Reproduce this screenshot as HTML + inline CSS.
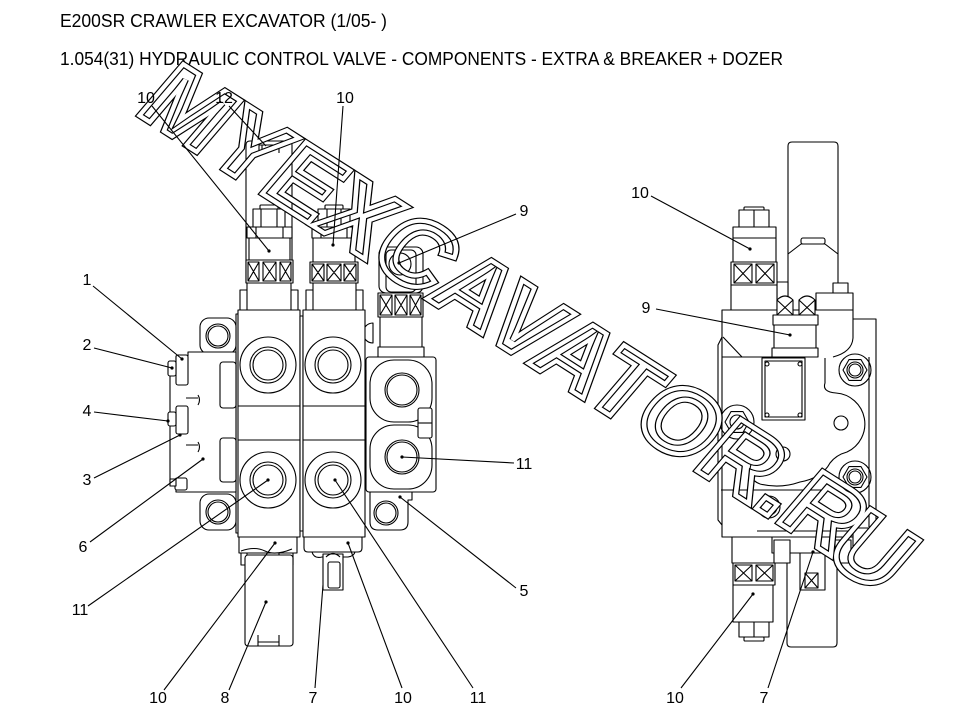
<!DOCTYPE html>
<html><head><meta charset="utf-8"><style>
html,body{margin:0;padding:0;background:#fff;}
svg{display:block;}
text{font-family:"Liberation Sans",Arial,sans-serif;fill:#000;stroke:none;}
</style></head><body>
<svg width="960" height="720" viewBox="0 0 960 720" xmlns="http://www.w3.org/2000/svg">
<text x="60" y="27" font-size="18" textLength="327" lengthAdjust="spacingAndGlyphs">E200SR CRAWLER EXCAVATOR (1/05- )</text>
<text x="60" y="65" font-size="18" textLength="723" lengthAdjust="spacingAndGlyphs">1.054(31) HYDRAULIC CONTROL VALVE - COMPONENTS - EXTRA &amp; BREAKER + DOZER</text>

<g fill="#fff" stroke="#000" stroke-width="1.1" stroke-linejoin="round">
<!-- LEFT VIEW -->
<path d="M246,283 V145 Q246,141 250,141 H289 Q292,141 292,145 V283"/>
<path fill="none" d="M259,153 V145 H279 V153 M262,145 V150 M276,145 V150"/>
<!-- spool 1 top -->
<rect x="260" y="205" width="18" height="5" rx="1"/>
<rect x="253" y="209" width="32" height="18"/>
<path fill="none" d="M261,209V227 M277,209V227"/>
<rect x="247" y="227" width="45" height="11"/>
<path fill="none" d="M256,227V238 M283,227V238"/>
<rect x="249" y="238" width="41" height="22"/>
<rect x="246" y="260" width="47" height="23"/>
<path fill="none" d="M248,262 h11 v19 h-11z M248,262 l11,19 M259,262 l-11,19 M263,262 h13 v19 h-13z M263,262 l13,19 M276,262 l-13,19 M280,262 h11 v19 h-11z M280,262 l11,19 M291,262 l-11,19"/>
<rect x="240" y="290" width="58" height="20"/>
<rect x="247" y="283" width="44" height="27"/>
<!-- spool 2 top -->
<rect x="325" y="205" width="18" height="5" rx="1"/>
<rect x="318" y="209" width="32" height="18"/>
<path fill="none" d="M327,209V227 M341,209V227"/>
<rect x="312" y="227" width="44" height="11"/>
<path fill="none" d="M321,227V238 M347,227V238"/>
<rect x="313" y="238" width="42" height="24"/>
<rect x="310" y="262" width="48" height="21"/>
<path fill="none" d="M312,264 h12 v17 h-12z M312,264 l12,17 M324,264 l-12,17 M327,264 h14 v17 h-14z M327,264 l14,17 M341,264 l-14,17 M344,264 h12 v17 h-12z M344,264 l12,17 M356,264 l-12,17"/>
<rect x="306" y="290" width="57" height="20"/>
<rect x="313" y="283" width="43" height="27"/>
<!-- item 9 left -->
<path d="M373,323 A10,10 0 0 0 373,343 Z"/>
<rect x="378" y="347" width="46" height="10"/>
<rect x="380" y="317" width="42" height="30"/>
<rect x="378" y="293" width="45" height="24"/>
<path fill="none" d="M380,295 h12 v20 h-12z M380,295 l12,20 M392,295 l-12,20 M395,295 h12 v20 h-12z M395,295 l12,20 M407,295 l-12,20 M410,295 h11 v20 h-11z M410,295 l11,20 M421,295 l-11,20"/>
<rect x="379" y="247" width="44" height="46" rx="7"/>
<rect x="386" y="250" width="30" height="42" rx="5" fill="none"/>
<circle cx="400" cy="264" r="11" fill="none"/>
<!-- blocks -->
<rect x="236" y="314" width="3" height="219"/>
<rect x="238" y="310" width="62" height="227"/>
<path fill="none" d="M238,406H300 M238,440H300"/>
<rect x="300" y="316" width="3" height="215"/>
<rect x="303" y="310" width="62" height="227"/>
<path fill="none" d="M303,406H365 M303,440H365"/>
<g fill="none">
<circle cx="268" cy="365" r="28"/><circle cx="268" cy="365" r="18"/><circle cx="268" cy="365" r="15"/>
<circle cx="268" cy="480" r="28"/><circle cx="268" cy="480" r="18"/><circle cx="268" cy="480" r="15"/>
<circle cx="333" cy="365" r="28"/><circle cx="333" cy="365" r="18"/><circle cx="333" cy="365" r="15"/>
<circle cx="333" cy="480" r="28"/><circle cx="333" cy="480" r="18"/><circle cx="333" cy="480" r="15"/>
</g>
<!-- block 3 -->
<path d="M370,492 V522 Q370,530 378,530 H400 Q408,530 408,522 V500 H412 V492 Z"/>
<circle cx="386" cy="513" r="12" fill="none"/><circle cx="386" cy="513" r="10" fill="none"/>
<rect x="366" y="357" width="70" height="135" rx="3"/>
<rect x="370" y="360" width="62" height="62" rx="24" fill="none"/>
<rect x="370" y="425" width="62" height="64" rx="24" fill="none"/>
<circle cx="402" cy="390" r="17" fill="none"/><circle cx="402" cy="390" r="15" fill="none"/>
<circle cx="402" cy="457" r="17" fill="none"/><circle cx="402" cy="457" r="15" fill="none"/>
<rect x="418" y="408" width="14" height="30" rx="2"/>
<path fill="none" d="M418,423H432"/>
<!-- end plate -->
<rect x="200" y="318" width="36" height="36" rx="9"/>
<circle cx="218" cy="336" r="12" fill="none"/><circle cx="218" cy="336" r="10" fill="none"/>
<rect x="200" y="494" width="36" height="36" rx="9"/>
<circle cx="218" cy="512" r="12" fill="none"/><circle cx="218" cy="512" r="10" fill="none"/>
<path d="M236,352 H188 V356 H176 V368 H170 V482 H176 V492 H236 Z"/>
<rect x="176" y="355" width="12" height="30" rx="2"/>
<rect x="168" y="361" width="8" height="15" rx="2"/>
<rect x="176" y="406" width="12" height="28" rx="2"/>
<rect x="168" y="412" width="8" height="14" rx="2"/>
<rect x="175" y="478" width="12" height="12" rx="2"/>
<rect x="170" y="479" width="6" height="7"/>
<rect x="220" y="362" width="16" height="46" rx="3"/>
<rect x="220" y="438" width="16" height="44" rx="3"/>
<path fill="none" d="M186,398 H198 M186,445 H198 M198,395 Q201,400 198,405 M198,442 Q201,447 198,452"/>
<!-- bottom left -->
<rect x="239" y="537" width="58" height="16"/>
<path fill="none" d="M241,551 Q255,546 265,551 T292,549"/>
<rect x="241" y="553" width="6" height="12"/>
<rect x="279" y="553" width="14" height="12"/>
<rect x="245" y="555" width="48" height="91" rx="3"/>
<path fill="none" d="M258,646 V635 M279,646 V635 M258,642 H279"/>
<path d="M304,537 V548 Q304,552 308,552 H358 Q362,552 362,548 V537 Z"/>
<path fill="none" d="M312,552 Q314,559 322,557 H348 Q354,556 355,552"/>
<rect x="323" y="554" width="20" height="36"/>
<rect x="328" y="562" width="12" height="26" rx="2" fill="none"/>
<path fill="none" d="M326,557 Q333,550 340,557"/>

<!-- RIGHT VIEW -->
<path d="M788,310 V146 Q788,142 792,142 H834 Q838,142 838,146 V310"/>
<path fill="none" d="M788,254 L801,244 H825 L838,254"/>
<rect x="801" y="238" width="24" height="6" rx="2"/>
<rect x="833" y="283" width="15" height="10"/>
<rect x="816" y="293" width="37" height="17"/>
<rect x="777" y="282" width="11" height="28"/>
<rect x="744" y="207" width="20" height="4" rx="1"/>
<rect x="739" y="210" width="30" height="17"/>
<path fill="none" d="M754,210V227 M754,227V238"/>
<rect x="733" y="227" width="43" height="11"/>
<rect x="733" y="238" width="43" height="24"/>
<rect x="731" y="262" width="46" height="23"/>
<path fill="none" d="M734,264 h18 v19 h-18z M734,264 l18,19 M752,264 l-18,19 M756,264 h18 v19 h-18z M756,264 l18,19 M774,264 l-18,19"/>
<rect x="731" y="285" width="46" height="25"/>
<path d="M722,310 H853 V319 H876 V528 H853 V537 H722 Z"/>
<path fill="none" d="M722,337 L718,345 V520 L722,525 M723,337 L742,357 M722,357 H812 M869,357 V527 M721,490 H827 M757,531 H853 M853,319 V338 Q852,352 833,357"/>
<rect x="772" y="348" width="46" height="9"/>
<rect x="774" y="325" width="42" height="23"/>
<rect x="773" y="315" width="45" height="10"/>
<path d="M777,315 V300 Q785,292 793,300 V315 Z M799,315 V300 Q807,292 815,300 V315 Z"/>
<path fill="none" d="M777,300 l16,15 M793,300 l-16,15 M799,300 l16,15 M815,300 l-16,15"/>
<rect x="762" y="358" width="43" height="62"/>
<rect x="765" y="361" width="37" height="56" fill="none"/>
<g fill="none">
<circle cx="767" cy="364" r="2"/><circle cx="800" cy="364" r="2"/><circle cx="767" cy="415" r="2"/><circle cx="800" cy="415" r="2"/>
<path d="M825,358 V383 Q822,392 836,393 A31,31 0 0 1 847,452 Q836,455 830,463 Q822,478 800,482 Q780,489 760,484"/>
<path d="M760,484 Q745,478 752,462"/>
<circle cx="855" cy="370" r="16"/>
<polygon points="867,370 861,380.4 849,380.4 843,370 849,359.6 861,359.6"/>
<circle cx="855" cy="370" r="8"/><circle cx="855" cy="370" r="6"/>
<circle cx="855" cy="477" r="16"/>
<polygon points="867,477 861,487.4 849,487.4 843,477 849,466.6 861,466.6"/>
<circle cx="855" cy="477" r="8"/><circle cx="855" cy="477" r="6"/>
<circle cx="737" cy="422" r="17"/>
<polygon points="749,422 743,432.4 731,432.4 725,422 731,411.6 743,411.6"/>
<circle cx="737" cy="422" r="7"/>
<circle cx="841" cy="423" r="7"/>
<circle cx="783" cy="454" r="7"/>
<circle cx="769" cy="507" r="11"/><circle cx="769" cy="507" r="8"/>
</g>
<!-- bottom right -->
<rect x="732" y="537" width="45" height="26"/>
<rect x="733" y="563" width="42" height="22"/>
<path fill="none" d="M735,565 h17 v16 h-17z M735,565 l17,16 M752,565 l-17,16 M756,565 h17 v16 h-17z M756,565 l17,16 M773,565 l-17,16"/>
<rect x="733" y="585" width="40" height="37"/>
<rect x="739" y="622" width="30" height="15"/>
<path fill="none" d="M754,622V637"/>
<rect x="744" y="637" width="20" height="4" rx="1"/>
<path d="M787,553 V643 Q787,647 791,647 H833 Q837,647 837,643 V553"/>
<rect x="772" y="537" width="81" height="16"/>
<rect x="774" y="540" width="16" height="23"/>
<rect x="835" y="540" width="16" height="23"/>
<rect x="800" y="553" width="25" height="37"/>
<path fill="none" d="M805,573 h13 v15 h-13z M805,573 l13,15 M818,573 l-13,15"/>
</g>

<!-- watermark -->
<g transform="translate(134,112) rotate(32.5) skewX(-8)" font-family="Liberation Sans, Arial, sans-serif" font-weight="bold" font-size="97">
<text x="0" y="0" style="fill:none;stroke:#000;stroke-width:6.6;stroke-linejoin:miter">MYEXCAVATOR.R<tspan dx="-8" dy="6">U</tspan></text>
<text x="0" y="0" style="fill:none;stroke:#fff;stroke-width:4.2;stroke-linejoin:miter">MYEXCAVATOR.R<tspan dx="-8" dy="6">U</tspan></text>
</g>

<!-- leaders -->
<g stroke="#000" stroke-width="1.1" fill="none">
<path d="M152,106 L269,251 M229,106 L266,146 M343,106 L333,245 M516,214 L399,263 M651,196 L750,249 M656,309 L790,335 M93,286 L182,359 M94,348 L172,368 M94,412 L168,421 M94,478 L180,435 M90,542 L203,459 M88,606 L268,480 M514,463 L402,457 M516,588 L400,497 M164,690 L275,543 M229,690 L266,602 M315,688 L323,585 M402,688 L348,543 M473,688 L335,480 M681,688 L753,594 M768,688 L813,552"/>
</g>
<g fill="#000">
<circle cx="269" cy="251" r="1.6"/><circle cx="333" cy="245" r="1.6"/><circle cx="399" cy="263" r="1.6"/>
<circle cx="750" cy="249" r="1.6"/><circle cx="790" cy="335" r="1.6"/><circle cx="182" cy="359" r="1.6"/>
<circle cx="172" cy="368" r="1.6"/><circle cx="168" cy="421" r="1.6"/><circle cx="180" cy="435" r="1.6"/>
<circle cx="203" cy="459" r="1.6"/><circle cx="268" cy="480" r="1.6"/><circle cx="402" cy="457" r="1.6"/>
<circle cx="400" cy="497" r="1.6"/><circle cx="275" cy="543" r="1.6"/><circle cx="266" cy="602" r="1.6"/>
<circle cx="348" cy="543" r="1.6"/><circle cx="335" cy="480" r="1.6"/><circle cx="753" cy="594" r="1.6"/>
<circle cx="813" cy="552" r="1.6"/>
</g>
<g font-size="16" text-anchor="middle">
<text x="146" y="103">10</text>
<text x="224" y="103">12</text>
<text x="345" y="103">10</text>
<text x="524" y="216">9</text>
<text x="640" y="198">10</text>
<text x="646" y="313">9</text>
<text x="87" y="285">1</text>
<text x="87" y="350">2</text>
<text x="87" y="416">4</text>
<text x="87" y="485">3</text>
<text x="83" y="552">6</text>
<text x="80" y="615">11</text>
<text x="524" y="469">11</text>
<text x="524" y="596">5</text>
<text x="158" y="703">10</text>
<text x="225" y="703">8</text>
<text x="313" y="703">7</text>
<text x="403" y="703">10</text>
<text x="478" y="703">11</text>
<text x="675" y="703">10</text>
<text x="764" y="703">7</text>
</g>
</svg>
</body></html>
